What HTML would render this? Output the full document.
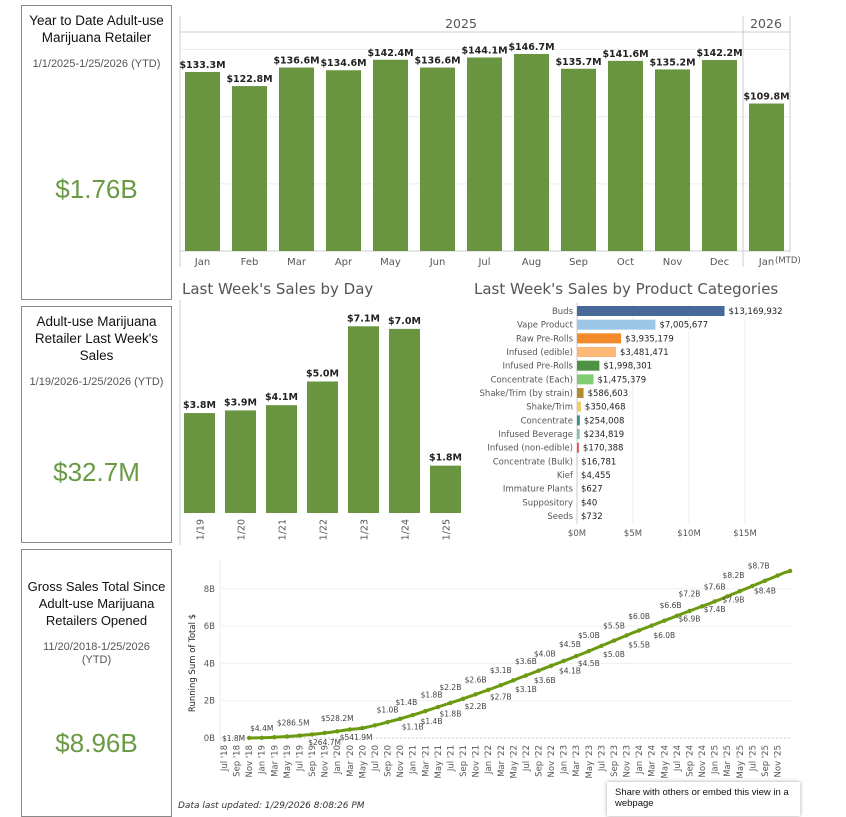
<!DOCTYPE html>
<html><head><meta charset="utf-8">
<style>
body{margin:0;width:846px;height:816px;overflow:hidden;background:#fff;font-family:"Liberation Sans",sans-serif;position:relative}
.card{position:absolute;left:21px;width:151px;border:1px solid #888;box-sizing:border-box;text-align:center;background:#fff}
.card .t{font-size:13.5px;color:#111;line-height:17px;margin-top:6px;padding:0 4px}
.card .d{font-size:11px;color:#555;margin-top:12px;line-height:13px}
.card .v{position:absolute;left:0;right:0;font-size:26px;color:#6a9a44}
svg{position:absolute;left:0;top:0}
svg text{font-family:"DejaVu Sans",sans-serif}
.tip{position:absolute;left:607px;top:782px;width:193px;height:34px;background:#fff;box-shadow:0 0 4px rgba(0,0,0,.35);font-size:9.5px;color:#111;padding:5px 8px;box-sizing:border-box;line-height:11px}
</style></head><body>
<div class="card" style="top:5px;height:295px">
 <div class="t">Year to Date Adult-use Marijuana Retailer</div>
 <div class="d">1/1/2025-1/25/2026 (YTD)</div>
 <div class="v" style="top:168px">$1.76B</div>
</div>
<div class="card" style="top:306px;height:237px">
 <div class="t">Adult-use Marijuana Retailer Last Week's Sales</div>
 <div class="d">1/19/2026-1/25/2026 (YTD)</div>
 <div class="v" style="top:150px">$32.7M</div>
</div>
<div class="card" style="top:549px;height:268px">
 <div class="t" style="margin-top:28px;padding:0 1px;font-size:13px">Gross Sales Total Since Adult-use Marijuana Retailers Opened</div>
 <div class="d" style="padding:0 18px">11/20/2018-1/25/2026 (YTD)</div>
 <div class="v" style="top:178px">$8.96B</div>
</div>
<svg id="s" width="846" height="816"></svg>
<div style="position:absolute;left:178px;top:801px;font-size:9px;font-style:italic;color:#333;font-family:'DejaVu Sans',sans-serif">Data last updated: 1/29/2026 8:08:26 PM</div>
<div class="tip">Share with others or embed this view in a webpage</div>
<script>
// Monthly chart data
const monthCats=["Jan","Feb","Mar","Apr","May","Jun","Jul","Aug","Sep","Oct","Nov","Dec","Jan"];
const monthVals=[133.3,122.8,136.6,134.6,142.4,136.6,144.1,146.7,135.7,141.6,135.2,142.2,109.8];
// Daily chart data
const dayCats=["1/19","1/20","1/21","1/22","1/23","1/24","1/25"];
const dayVals=[3.8,3.9,4.1,5.0,7.1,7.0,1.8];
// Category chart data
const prodCats=["Buds","Vape Product","Raw Pre-Rolls","Infused (edible)","Infused Pre-Rolls","Concentrate (Each)","Shake/Trim (by strain)","Shake/Trim","Concentrate","Infused Beverage","Infused (non-edible)","Concentrate (Bulk)","Kief","Immature Plants","Suppository","Seeds"];
const prodVals=[13169932,7005677,3935179,3481471,1998301,1475379,586603,350468,254008,234819,170388,16781,4455,627,40,732];
const prodColors=["#46699a","#9dc7e6","#f28a2a","#fdb877","#4e9244","#82cd74","#b08e2e","#f1cc62","#3d8d89","#86bcb6","#e15759","#888","#888","#888","#888","#888"];
const prodTicks=[0,5,10,15];
// Running sum data (billions), monthly from Nov '18
const runStart=4;
const runVals=[0.0018,0.0044,
0.01,0.02,0.04,0.06,0.08,0.10,0.13,0.16,0.19,0.23,0.27,0.31,
0.36,0.41,0.46,0.49,0.53,0.60,0.68,0.76,0.85,0.94,1.03,1.13,
1.23,1.33,1.44,1.55,1.66,1.77,1.88,1.99,2.10,2.22,2.34,2.46,
2.58,2.70,2.83,2.96,3.09,3.22,3.35,3.48,3.61,3.74,3.87,4.00,
4.13,4.26,4.39,4.52,4.66,4.80,4.94,5.08,5.22,5.36,5.50,5.64,
5.77,5.90,6.03,6.16,6.29,6.42,6.55,6.68,6.81,6.94,7.06,7.18,
7.32,7.45,7.59,7.73,7.87,8.01,8.15,8.29,8.43,8.57,8.71,8.85,
8.96];
const runTicks=[0,2,4,6,8];
const lblMonths=[4,6,11,16,18,21,26,30,29,33,33,36,36,40,40,44,44,48,48,51,51,55,55,58,58,62,62,66,66,71,70,74,74,78,78,81,81,85,86];
const lblVals=[0.0018,0.0044,0.2865,0.2647,0.5282,0.5419,1.0,1.1,1.4,1.8,1.4,2.2,1.8,2.6,2.2,3.1,2.7,3.6,3.1,4.0,3.6,4.5,4.1,5.0,4.5,5.5,5.0,6.0,5.5,6.6,6.0,7.2,6.9,7.6,7.4,8.2,7.9,8.7,8.4];
const lblSide=["L","A","A","B","A","B","A","B","A","A","B","A","B","A","B","A","B","A","B","A","B","A","B","A","B","A","B","A","B","A","B","A","B","A","B","A","B","A","B"];
const xLabelMonths=["Jul","Sep","Nov","Jan","Mar","May"];

const S=document.getElementById('s');
const NS='http://www.w3.org/2000/svg';
function el(tag,attrs,parent){const e=document.createElementNS(NS,tag);for(const k in attrs)e.setAttribute(k,attrs[k]);(parent||S).appendChild(e);return e;}
function txt(x,y,t,attrs,parent){const e=el('text',Object.assign({x:x,y:y},attrs),parent);e.textContent=t;return e;}

// ---- Top monthly chart ----
const g1=el('g',{});


const mBase=251,mScale=1.343,mX=i=>202.5+47*i;
[50,100,150].forEach(v=>el('line',{x1:180,x2:790,y1:mBase-v*mScale,y2:mBase-v*mScale,stroke:'#eee'},g1));
el('line',{x1:180,x2:790,y1:32,y2:32,stroke:'#ccc'},g1);
el('line',{x1:180,x2:180,y1:16,y2:267,stroke:'#ccc'},g1);
el('line',{x1:743,x2:743,y1:16,y2:267,stroke:'#ccc'},g1);
el('line',{x1:790,x2:790,y1:16,y2:252,stroke:'#ccc'},g1);
el('line',{x1:180,x2:790,y1:mBase,y2:mBase,stroke:'#ccc'},g1);
let yr=txt(461,28,'2025',{'font-size':12.5,fill:'#555','text-anchor':'middle'},g1);


let yr2=txt(766,28,'2026',{'font-size':12.5,fill:'#555','text-anchor':'middle'},g1);


monthVals.forEach((v,i)=>{
  const x=mX(i),h=v*mScale;
  const r=el('rect',{x:x-17.5,y:mBase-h,width:35,height:h,fill:'#6a9540'},g1);
  
  
  txt(x,mBase-h-4,'$'+v.toFixed(1)+'M',{'font-size':9.5,'font-weight':'bold',fill:'#222','text-anchor':'middle'},g1);
  txt(x,265,monthCats[i],{'font-size':10,fill:'#555','text-anchor':'middle'},g1);
});
txt(775,263,'(MTD)',{'font-size':8.5,fill:'#555'},g1);

// ---- Daily chart ----
const g2=el('g',{});


let t2=txt(182,294,"Last Week's Sales by Day",{'font-size':15,fill:'#555'},g2);


const dBase=513,dScale=26.3,dX=i=>199.5+41*i;
el('line',{x1:180,x2:180,y1:300,y2:545,stroke:'#ccc'},g2);
dayVals.forEach((v,i)=>{
  const x=dX(i),h=v*dScale;
  const r=el('rect',{x:x-15.5,y:dBase-h,width:31,height:h,fill:'#6a9540'},g2);
  
  
  txt(x,dBase-h-5,'$'+v.toFixed(1)+'M',{'font-size':9.5,'font-weight':'bold',fill:'#222','text-anchor':'middle'},g2);
  txt(0,0,dayCats[i],{'font-size':9.5,fill:'#555','text-anchor':'end',transform:`translate(${x+4},${dBase+6}) rotate(-90)`},g2);
});

// ---- Product categories ----
const g3=el('g',{});


let t3=txt(474,294,"Last Week's Sales by Product Categories",{'font-size':15,fill:'#555'},g3);


const pX0=577,pScale=11.2/1e6,pY=i=>311+13.67*i;
prodTicks.forEach(t=>{
  const x=pX0+t*1e6*pScale;
  el('line',{x1:x,x2:x,y1:303,y2:524,stroke:t?'#eee':'#ccc'},g3);
  txt(x,536,'$'+t+'M',{'font-size':8.5,fill:'#555','text-anchor':'middle'},g3);
});
prodVals.forEach((v,i)=>{
  const y=pY(i),w=Math.max(v*pScale,0);
  const r=el('rect',{x:pX0,y:y-5,width:w,height:10,fill:prodColors[i]},g3);
  
  
  txt(pX0-4,y+3,prodCats[i],{'font-size':8.5,fill:'#555','text-anchor':'end'},g3);
  txt(pX0+w+4,y+3,'$'+v.toLocaleString('en-US'),{'font-size':8.5,fill:'#222'},g3);
});

// ---- Running sum chart ----
const g4=el('g',{});


const rBase=738,rScale=18.65,rX=m=>224+6.29*m,rY=v=>rBase-v*rScale;
runTicks.forEach(t=>{
  el('line',{x1:220,x2:792,y1:rY(t),y2:rY(t),stroke:t?'#f0f0f0':'#ccc','stroke-dasharray':t?'':'2,2'},g4);
  txt(215,rY(t)+3,t+'B',{'font-size':8.5,fill:'#555','text-anchor':'end'},g4);
});
let yt=txt(0,0,'Running Sum of Total $',{'font-size':8.5,fill:'#222','text-anchor':'middle',transform:'translate(195,663) rotate(-90)'},g4);


el('line',{x1:220,x2:220,y1:560,y2:748,stroke:'#eee'},g4);
for(let m=0;m<=88;m+=2){
  const yrN=18+Math.floor((m+6)/12), mo=xLabelMonths[(m/2)%6];
  txt(0,0,mo+" '"+yrN,{'font-size':8.5,fill:'#555','text-anchor':'end',transform:`translate(${rX(m)+3},745) rotate(-90)`},g4);
}
const pts=runVals.map((v,i)=>rX(runStart+i).toFixed(1)+','+rY(v).toFixed(1)).join(' ');
const ln=el('polyline',{points:pts,fill:'none',stroke:'#6b9a10','stroke-width':3},g4);


runVals.forEach((v,i)=>{if(i%2===0)el('circle',{cx:rX(runStart+i),cy:rY(v),r:2.2,fill:'#6b9a10'},g4);});
lblVals.forEach((v,i)=>{
  const m=lblMonths[i];
  const t=v<1?'$'+(v*1000).toFixed(1)+'M':'$'+v.toFixed(1)+'B';
  if(lblSide[i]==='L') txt(rX(m)-4,rY(v)+3,t,{'font-size':7.5,fill:'#444','text-anchor':'end'},g4);
  else txt(rX(m),lblSide[i]==='A'?rY(v)-7:rY(v)+12,t,{'font-size':7.5,fill:'#444','text-anchor':'middle'},g4);
});
</script>
</body></html>
